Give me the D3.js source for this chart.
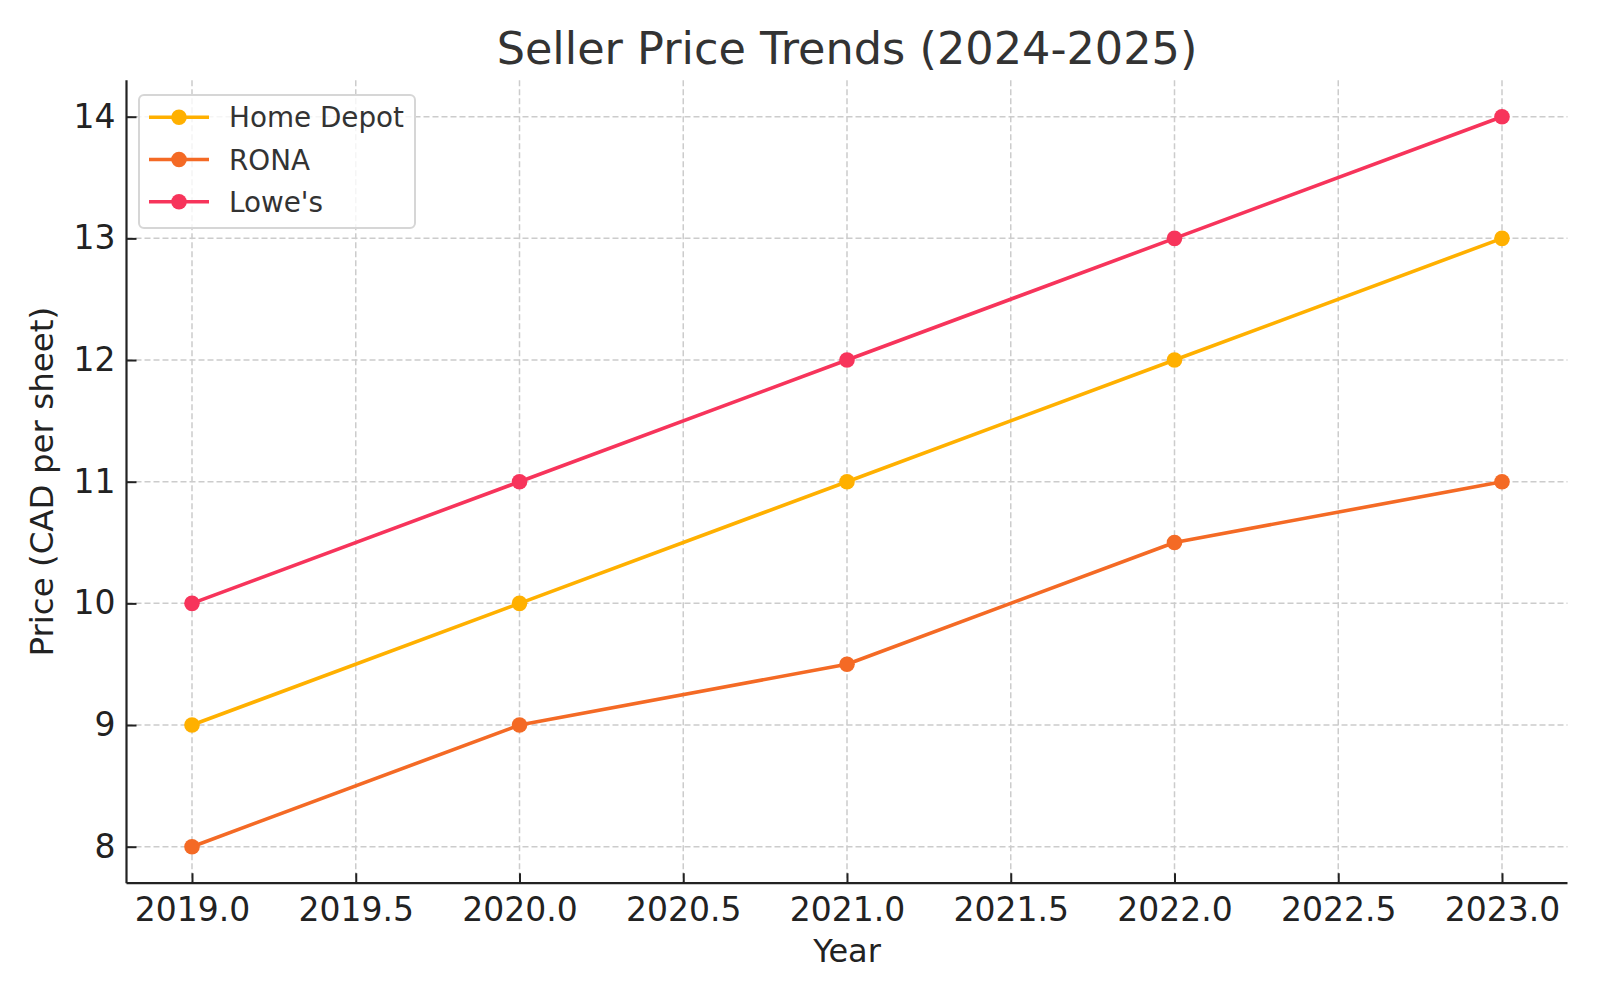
<!DOCTYPE html>
<html>
<head>
<meta charset="utf-8">
<script src="https://cdn.jsdelivr.net/npm/d3@7"></script>
<style>
  html, body { margin: 0; padding: 0; background: #fff; }
  svg { display: block; font-family: "DejaVu Sans", sans-serif; }
</style>
</head>
<body>
<svg id="chart" width="1600" height="1000"></svg>
<script>
const years = [2019, 2020, 2021, 2022, 2023];
const homeDepot = [9, 10, 11, 12, 13];
const rona = [8, 9, 9.5, 10.5, 11];
const lowes = [10, 11, 12, 13, 14];
const seriesNames = ["Home Depot", "RONA", "Lowe's"];
const seriesColors = ["#FFB000", "#F46A25", "#F7345B"];
const xTicks = [2019, 2019.5, 2020, 2020.5, 2021, 2021.5, 2022, 2022.5, 2023];
const yTicks = [8, 9, 10, 11, 12, 13, 14];
const titleText = "Seller Price Trends (2024-2025)";
const xLabel = "Year";
const yLabel = "Price (CAD per sheet)";

(function () {
const seriesValues = [homeDepot, rona, lowes];
const series = seriesNames.map((name, i) => ({
  name, color: seriesColors[i],
  points: years.map((yr, j) => ({ x: yr, y: seriesValues[i][j] }))
}));

const svg = d3.select("#chart");
const pLeft = 126.5, pRight = 1567.5, pTop = 80.2, pBottom = 883.2;

const x = d3.scaleLinear().domain([2018.8, 2023.2]).range([pLeft, pRight]);
const y = d3.scaleLinear().domain([7.7, 14.3]).range([pBottom, pTop]);

// grid
const grid = svg.append("g");
grid.selectAll("line.gx").data(xTicks).join("line").attr("class", "gx")
  .attr("x1", d => x(d)).attr("x2", d => x(d))
  .attr("y1", pTop).attr("y2", pBottom)
  .attr("stroke", "#cccccc").attr("stroke-width", 1.5).attr("stroke-dasharray", "6,3");
grid.selectAll("line.gy").data(yTicks).join("line").attr("class", "gy")
  .attr("x1", pLeft).attr("x2", pRight)
  .attr("y1", d => y(d)).attr("y2", d => y(d))
  .attr("stroke", "#cccccc").attr("stroke-width", 1.5).attr("stroke-dasharray", "6,3");

// lines
const line = d3.line().x(d => x(d.x)).y(d => y(d.y));
series.forEach(s => {
  svg.append("path").datum(s.points)
    .attr("d", line).attr("fill", "none")
    .attr("stroke", s.color).attr("stroke-width", 3.6)
    .attr("stroke-linejoin", "round").attr("stroke-linecap", "round");
  svg.append("g").selectAll("circle").data(s.points).join("circle")
    .attr("cx", d => x(d.x)).attr("cy", d => y(d.y)).attr("r", 7.8)
    .attr("fill", s.color);
});

// axes
const xAxis = d3.axisBottom(x).tickValues(xTicks).tickFormat(d3.format(".1f"))
  .tickSizeInner(-10).tickSizeOuter(0).tickPadding(14);
const gx = svg.append("g").attr("transform", `translate(0,${pBottom})`).call(xAxis);
const yAxis = d3.axisLeft(y).tickValues(yTicks).tickFormat(d3.format("d"))
  .tickSizeInner(-10).tickSizeOuter(0).tickPadding(11);
const gy = svg.append("g").attr("transform", `translate(${pLeft},0)`).call(yAxis);
[gx, gy].forEach(g => {
  g.select(".domain").attr("stroke", "#222").attr("stroke-width", 2.2);
  g.selectAll(".tick line").attr("stroke", "#222").attr("stroke-width", 2);
  g.selectAll(".tick text").attr("fill", "#222").style("font-size", "33px")
    .style("font-family", "'DejaVu Sans', sans-serif");
});
gy.select(".domain").attr("d", `M0,${pBottom}V${pTop}`);
gx.select(".domain").attr("d", `M${pLeft},0H${pRight}`);

// labels
svg.append("text").attr("x", (pLeft + pRight) / 2).attr("y", 63.5)
  .attr("text-anchor", "middle").attr("fill", "#333").style("font-size", "44.6px")
  .text(titleText);
svg.append("text").attr("x", (pLeft + pRight) / 2).attr("y", 961.5)
  .attr("text-anchor", "middle").attr("fill", "#222").style("font-size", "32px")
  .text(xLabel);
svg.append("text").attr("transform", `translate(53.3,${(pTop + pBottom) / 2}) rotate(-90)`)
  .attr("text-anchor", "middle").attr("fill", "#222").style("font-size", "32.5px")
  .text(yLabel);

// legend
const lg = svg.append("g");
lg.append("rect").attr("x", 139).attr("y", 95).attr("width", 276).attr("height", 133)
  .attr("rx", 5).attr("fill", "#fff").attr("fill-opacity", 0.8)
  .attr("stroke", "#d6d6d6").attr("stroke-width", 2);
series.forEach((s, i) => {
  const cy = 117.3 + i * 42.2;
  lg.append("line").attr("x1", 149).attr("x2", 209).attr("y1", cy).attr("y2", cy)
    .attr("stroke", s.color).attr("stroke-width", 3.6);
  lg.append("circle").attr("cx", 179).attr("cy", cy).attr("r", 7.8).attr("fill", s.color);
  lg.append("text").attr("x", 229).attr("y", cy).attr("dy", "0.36em")
    .attr("fill", "#333").style("font-size", "27.8px").text(s.name);
});
})();
</script>
</body>
</html>
